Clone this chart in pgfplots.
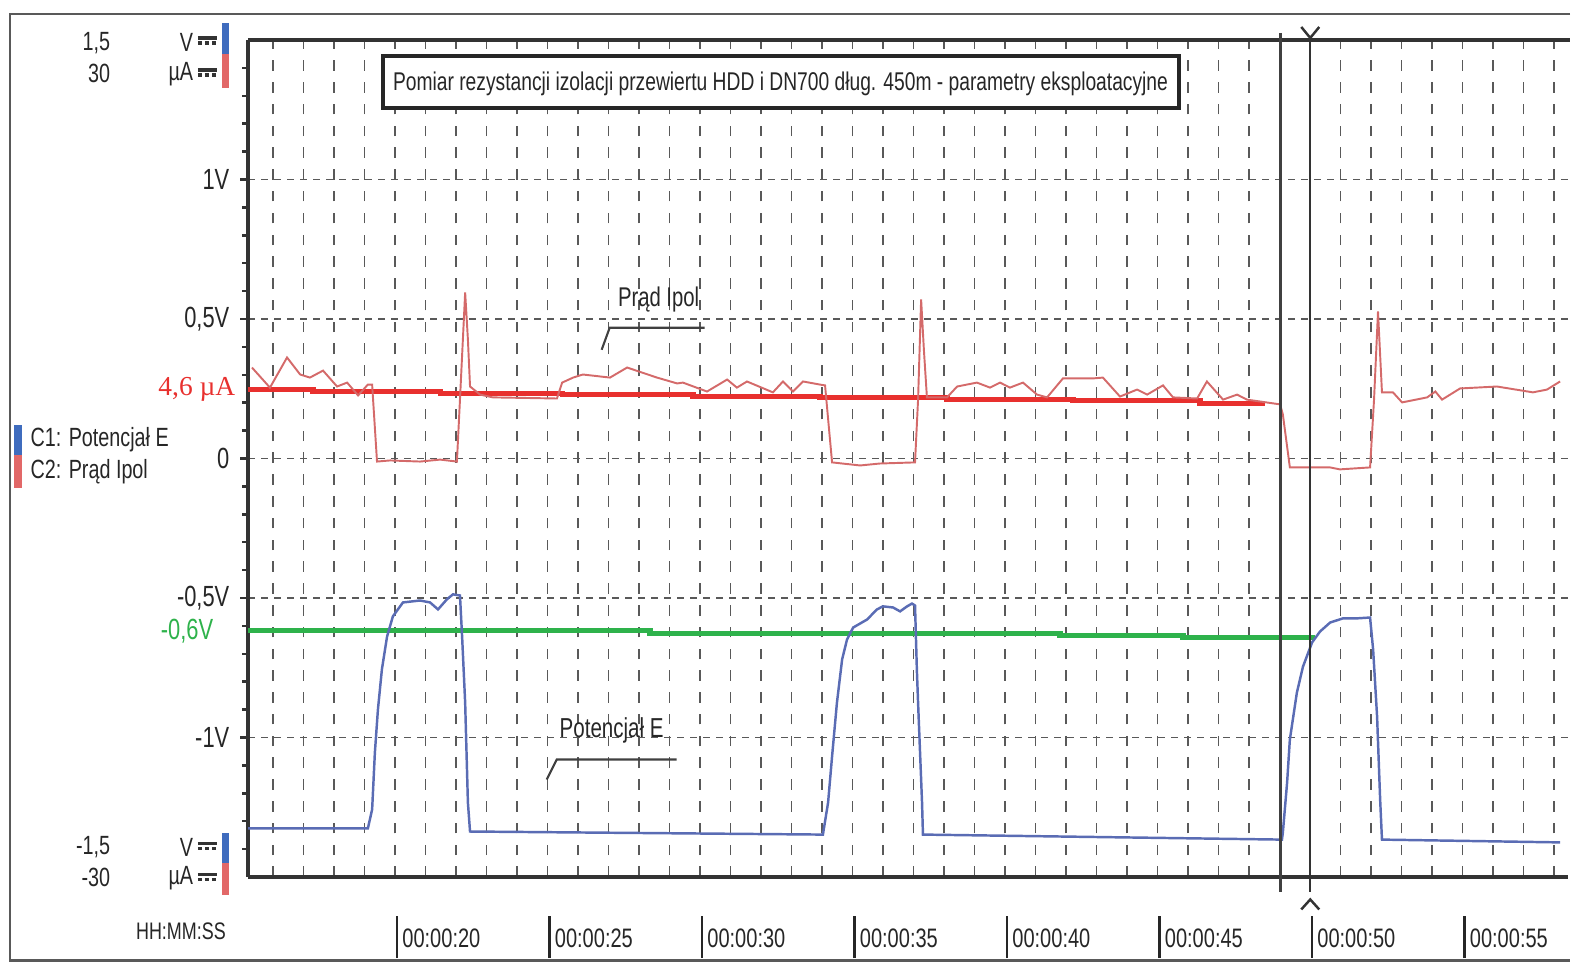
\documentclass[border=0pt]{standalone}
\usepackage{fontspec}
\setmainfont{Liberation Sans}[FakeStretch=0.75]
\newfontfamily\serifred{Liberation Serif}
\usepackage{pgfplots}
\pgfplotsset{compat=1.18}
\definecolor{traceblue}{HTML}{5A6CB4}
\definecolor{tracered}{HTML}{D46A6A}
\definecolor{fitred}{HTML}{E8302E}
\definecolor{fitgreen}{HTML}{2EB24B}
\definecolor{legblue}{HTML}{3F6CBE}
\definecolor{legred}{HTML}{E26868}
\newcommand\tl[1]{\rule[-3pt]{0.7pt}{12pt}\hspace{1.2pt}#1}
\newcommand\fs[1]{\fontsize{#1}{#1}\selectfont}
\begin{document}
\begin{tikzpicture}
\useasboundingbox (-2.48cm,-0.94cm) rectangle (13.23cm,8.77cm);
\begin{axis}[
 at={(0,0)}, anchor=south west,
 scale only axis, width=13.2cm, height=8.37cm,
 xmin=15.18, xmax=58.46, ymin=-1.5, ymax=1.5,
 axis lines*=left,
 axis line style={line width=0.9pt, black!80},
 xtick={20,25,...,55},
 xticklabels={\tl{00:00:20},\tl{00:00:25},\tl{00:00:30},\tl{00:00:35},\tl{00:00:40},\tl{00:00:45},\tl{00:00:50},\tl{00:00:55}},
 minor xtick={16,...,58},
 xmajorgrids, xminorgrids, ymajorgrids,
 x tick style={draw=none},
 ytick={-1,-0.5,0,0.5,1},
 yticklabels={-1V,{-0,5V},0,{0,5V},1V},
 minor ytick={-1.4,-1.3,-1.2,-1.1,-0.9,-0.8,-0.7,-0.6,-0.4,-0.3,-0.2,-0.1,0.1,0.2,0.3,0.4,0.6,0.7,0.8,0.9,1.1,1.2,1.3,1.4},
 tick align=outside,
 major tick length=0.08cm, minor tick length=0.06cm,
 y tick style={black!80, line width=0.7pt},
 x grid style={black!65, line width=0.55pt, dash pattern=on 3pt off 3.2pt},
 minor x grid style={black!65, line width=0.55pt, dash pattern=on 3pt off 3.2pt},
 y grid style={black!65, line width=0.5pt, dash pattern=on 2pt off 1.7pt},
 xticklabel style={anchor=west, inner sep=0pt, yshift=-0.52cm, font=\fs{7.6pt}, text=black!85},
 yticklabel style={anchor=east, inner sep=0pt, xshift=-0.1cm, font=\fs{8.3pt}, text=black!85},
]
% current fit line (4,6 uA)
\addplot[fitred, line width=1.5pt, const plot] coordinates {
(15.18,0.247) (17.31,0.240) (21.48,0.233) (25.48,0.229) (29.77,0.222) (33.93,0.219)
(38.10,0.211) (42.23,0.208) (46.39,0.197) (48.52,0.197)};
% potential fit line (-0,6 V)
\addplot[fitgreen, line width=1.5pt, const plot] coordinates {
(15.18,-0.616) (28.36,-0.627) (41.80,-0.634) (45.84,-0.642) (50.16,-0.642)};
% C2: Prad Ipol
\addplot[tracered, line width=0.55pt] coordinates {
(15.31,0.326) (15.90,0.254) (16.46,0.362) (16.89,0.301) (17.21,0.290) (17.64,0.315)
(18.10,0.258) (18.43,0.272) (18.79,0.226) (19.11,0.265) (19.25,0.265) (19.41,-0.011)
(19.84,-0.007) (20.82,-0.011) (21.48,-0.004) (22.03,-0.011) (22.13,0.211) (22.30,0.595)
(22.39,0.427) (22.46,0.258) (22.79,0.229) (23.21,0.219) (25.31,0.215) (25.48,0.272)
(25.84,0.290) (26.16,0.301) (27.05,0.290) (27.61,0.326) (28.59,0.290) (29.25,0.269)
(29.44,0.272) (30.23,0.240) (30.89,0.283) (31.21,0.254) (31.54,0.276) (32.39,0.237)
(32.72,0.276) (33.05,0.240) (33.38,0.276) (33.93,0.265) (34.10,0.262) (34.33,-0.014)
(35.25,-0.025) (35.90,-0.018) (37.05,-0.014) (37.15,0.211) (37.25,0.570) (37.34,0.391)
(37.44,0.219) (38.10,0.219) (38.43,0.258) (39.08,0.272) (39.51,0.254) (39.84,0.272)
(40.16,0.254) (40.59,0.272) (41.05,0.229) (41.38,0.219) (41.90,0.287) (42.89,0.287)
(43.21,0.290) (43.77,0.222) (44.33,0.247) (44.66,0.229) (45.18,0.262) (45.51,0.219)
(46.30,0.215) (46.62,0.276) (47.15,0.211) (47.61,0.229) (47.93,0.211) (49.02,0.194)
(49.11,0.158) (49.34,-0.032) (50.66,-0.032) (50.98,-0.039) (51.97,-0.032) (52.10,0.211)
(52.23,0.527) (52.36,0.237) (52.72,0.237) (53.02,0.201) (53.84,0.219) (54.11,0.240)
(54.33,0.211) (54.92,0.251) (56.13,0.258) (57.31,0.237) (57.77,0.247) (58.20,0.276)};
% C1: Potencjal E
\addplot[traceblue, line width=0.7pt] coordinates {
(15.18,-1.326) (19.11,-1.326) (19.25,-1.258) (19.34,-1.054) (19.44,-0.900) (19.57,-0.756)
(19.74,-0.638) (19.93,-0.566) (20.26,-0.516) (20.82,-0.509) (21.15,-0.516) (21.41,-0.541)
(21.70,-0.505) (21.90,-0.487) (22.13,-0.491) (22.20,-0.638) (22.30,-0.875) (22.39,-1.233)
(22.46,-1.337) (34.03,-1.348) (34.20,-1.233) (34.33,-1.068) (34.49,-0.875) (34.66,-0.720)
(34.82,-0.649) (35.02,-0.606) (35.48,-0.577) (35.80,-0.541) (36.00,-0.530) (36.33,-0.534)
(36.56,-0.548) (36.79,-0.530) (36.95,-0.520) (37.05,-0.527) (37.11,-0.756) (37.15,-0.875)
(37.28,-1.233) (37.31,-1.348) (49.08,-1.366) (49.11,-1.341) (49.25,-1.161) (49.34,-1.007)
(49.57,-0.839) (49.77,-0.746) (50.07,-0.659) (50.33,-0.620) (50.66,-0.588) (51.08,-0.573)
(51.54,-0.573) (51.97,-0.570) (52.07,-0.685) (52.20,-0.925) (52.30,-1.222) (52.36,-1.366)
(58.20,-1.376)};
\end{axis}
\begin{scope}[x=0.01cm, y=-0.01cm, shift={(-2.48cm,8.77cm)}]
% outer frame
\draw[black!65, line width=0.8pt] (1571,14) -- (10,14) -- (10,961) -- (1571,961);
% top axis line
\draw[black!80, line width=0.9pt] (248,40) -- (1571,40);
% cursors
\draw[black!75, line width=1pt] (1281,33) -- (1281,893);
\draw[black!80, line width=0.7pt] (1311,38) -- (1311,893);
\draw[black!80, line width=0.7pt] (1302,27) -- (1311,38) -- (1320,27);
\draw[black!80, line width=0.7pt] (1302,910) -- (1311,900) -- (1320,910);
% title box
\draw[black!85, line width=1.1pt, fill=white] (383,56) rectangle (1180,108);
\node[font=\fs{7.3pt}, text=black!85, inner sep=0pt] at (781,84) {Pomiar rezystancji izolacji przewiertu HDD i DN700 dług. 450m - parametry eksploatacyjne};
% legend
\fill[legblue] (14,425) rectangle (22,455);
\fill[legred] (14,455) rectangle (22,488);
\node[anchor=west, font=\fs{7.5pt}, text=black!85, inner sep=0pt] at (30,440) {C1: Potencjał E};
\node[anchor=west, font=\fs{7.5pt}, text=black!85, inner sep=0pt] at (30,472) {C2: Prąd Ipol};
% scale labels
\node[anchor=east, font=\fs{7.5pt}, text=black!85, inner sep=0pt] at (111,43) {1,5};
\node[anchor=east, font=\fs{7.5pt}, text=black!85, inner sep=0pt] at (111,73) {30};
\node[anchor=east, font=\fs{7.5pt}, text=black!85, inner sep=0pt] at (194,42) {V};
\node[anchor=east, font=\fs{7.5pt}, text=black!85, inner sep=0pt] at (194,74) {µA};
\node[anchor=east, font=\fs{7.5pt}, text=black!85, inner sep=0pt] at (111,848) {-1,5};
\node[anchor=east, font=\fs{7.5pt}, text=black!85, inner sep=0pt] at (111,878) {-30};
\node[anchor=east, font=\fs{7.5pt}, text=black!85, inner sep=0pt] at (194,848) {V};
\node[anchor=east, font=\fs{7.5pt}, text=black!85, inner sep=0pt] at (194,879) {µA};
\foreach \yy in {38,70,844,875}{
  \draw[black!80, line width=0.9pt] (198,\yy) -- (217,\yy);
  \draw[black!80, line width=0.9pt, dash pattern=on 1.1pt off 0.9pt] (198,\yy+5) -- (217,\yy+5);
}
\fill[legblue] (222,23) rectangle (229,54);
\fill[legred] (222,54) rectangle (229,88);
\fill[legblue] (222,833) rectangle (229,864);
\fill[legred] (222,864) rectangle (229,896);
\node[font=\fs{6.8pt}, text=black!85, inner sep=0pt] at (181,932) {HH:MM:SS};
% value labels
\node[anchor=east, font=\serifred\fs{7.8pt}, text=fitred, inner sep=0pt] at (236,390) {4,6 µA};
\node[anchor=east, font=\fs{8.3pt}, text=fitgreen, inner sep=0pt] at (214,632) {-0,6V};
% annotations
\node[font=\fs{7.7pt}, text=black!85, inner sep=0pt] at (659,300) {Prąd Ipol};
\draw[black!75, line width=0.6pt] (602,350) -- (610,328) -- (705,328);
\node[font=\fs{7.8pt}, text=black!85, inner sep=0pt] at (612,731) {Potencjał E};
\draw[black!75, line width=0.6pt] (547,780) -- (557,760) -- (677,760);
\end{scope}
\end{tikzpicture}
\end{document}
